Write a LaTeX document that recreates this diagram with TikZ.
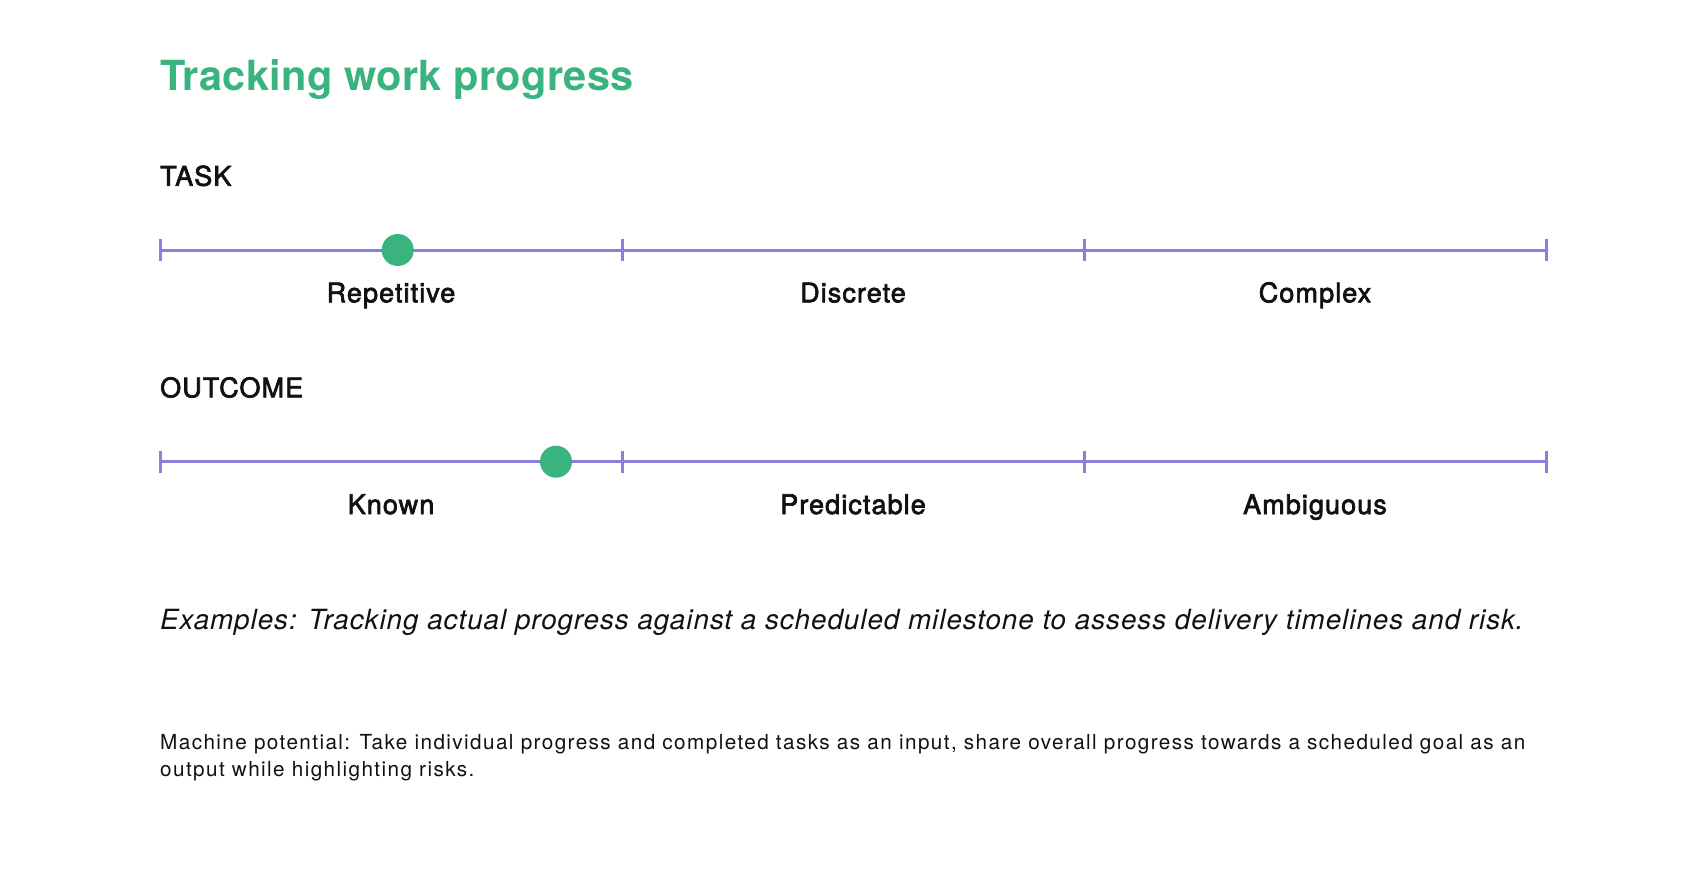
\documentclass[tikz,border=0pt]{standalone}
\usepackage{fontspec}
\setmainfont{TeX Gyre Heros}
\newfontfamily\medfont[FakeBold=2.5,LetterSpace=4]{TeX Gyre Heros}
\newfontfamily\titlefont[LetterSpace=0.7]{TeX Gyre Heros}
\newfontfamily\exfont[LetterSpace=3.5]{TeX Gyre Heros}
\newfontfamily\machfont[LetterSpace=6.8]{TeX Gyre Heros}
\definecolor{tgreen}{HTML}{3AB47F}
\definecolor{tpurple}{HTML}{8A7EDE}
\definecolor{ink}{HTML}{111111}
\begin{document}
\begin{tikzpicture}[x=1pt,y=-1pt,
  title/.style={anchor=base west, inner sep=0, text=tgreen, font=\titlefont\fontsize{41.5}{48}\selectfont\bfseries},
  head/.style={anchor=base west, inner sep=0, text=ink, font=\medfont\fontsize{27}{32}\selectfont},
  lab/.style={anchor=base, inner sep=0, text=ink, font=\medfont\fontsize{27}{32}\selectfont},
  axis/.style={draw=tpurple, line width=3pt},
  tick/.style={draw=tpurple, line width=3pt},
  dot/.style={circle, fill=tgreen, minimum size=32pt, inner sep=0},
  ex/.style={anchor=base west, inner sep=0, text=ink, font=\exfont\fontsize{27.8}{32}\selectfont\itshape},
  mach/.style={anchor=base west, inner sep=0, text=ink, font=\machfont\fontsize{20.7}{24}\selectfont}]
\useasboundingbox (0,0) rectangle (1706,872);
\fill[white] (0,0) rectangle (1706,872);

\node[title] (title) at (160,90.7) {Tracking work progress};

% TASK
\node[head] (task) at (160,185.7) {TASK};
\foreach \i/\x in {0/160,1/622,2/1084,3/1546}{
  \coordinate (a\i) at (\x,250);
  \coordinate (a\i t) at (\x,239);
  \coordinate (a\i b) at (\x,261);
}
\draw[axis] (a0) -- (a3);
\foreach \i in {0,1,2,3}{\draw[tick] (a\i t) -- (a\i b);}
\node[dot] (d1) at (397.7,250) {};
\node[lab] (rep) at (391,302.3) {Repetitive};
\node[lab] (dis) at (853,302.3) {Discrete};
\node[lab] (com) at (1315,302.3) {Complex};

% OUTCOME
\node[head] (outcome) at (160,397.3) {OUTCOME};
\foreach \i/\x in {0/160,1/622,2/1084,3/1546}{
  \coordinate (b\i) at (\x,461.7);
  \coordinate (b\i t) at (\x,450.7);
  \coordinate (b\i b) at (\x,472.7);
}
\draw[axis] (b0) -- (b3);
\foreach \i in {0,1,2,3}{\draw[tick] (b\i t) -- (b\i b);}
\node[dot] (d2) at (556,461.7) {};
\node[lab] (kno) at (391,514) {Known};
\node[lab] (pre) at (853,514) {Predictable};
\node[lab] (amb) at (1315,514) {Ambiguous};

\node[ex] (examples) at (160,629) {Examples: Tracking actual progress against a scheduled milestone to assess delivery timelines and risk.};

\node[mach] (m1) at (160,749.5) {Machine potential: Take individual progress and completed tasks as an input, share overall progress towards a scheduled goal as an};
\node[mach] (m2) at (160,776.7) {output while highlighting risks.};
\end{tikzpicture}
\end{document}
